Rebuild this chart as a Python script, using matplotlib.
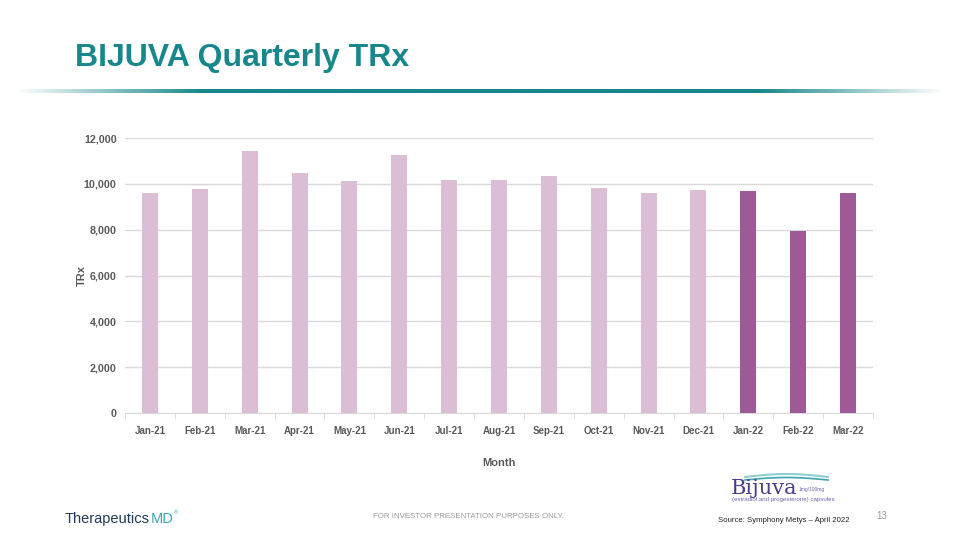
import numpy as np
import matplotlib.pyplot as plt
from matplotlib.ticker import FuncFormatter, FixedLocator

plt.rcParams['font.family'] = ['Liberation Sans', 'DejaVu Sans']

months = ['Jan-21', 'Feb-21', 'Mar-21', 'Apr-21', 'May-21', 'Jun-21', 'Jul-21', 'Aug-21',
          'Sep-21', 'Oct-21', 'Nov-21', 'Dec-21', 'Jan-22', 'Feb-22', 'Mar-22']
trx = [9620, 9780, 11430, 10480, 10130, 11250, 10170, 10170,
       10350, 9830, 9600, 9720, 9690, 7960, 9620]
light = '#dbbdd6'
dark = '#9e5a96'
colors = [light] * 12 + [dark] * 3

fig = plt.figure(figsize=(9.6, 5.4), dpi=100)

# title and gradient rule
fig.text(75/960, 1 - 58/540, 'BIJUVA Quarterly TRx', color='#17878b', fontsize=23,
         fontweight='bold', va='center', ha='left')
lax = fig.add_axes([15/960, 1 - 93/540, 930/960, 4/540])
grad = np.linspace(0, 1, 400)
alpha = np.clip(np.minimum(grad, 1 - grad) * 5, 0, 1)
rgba = np.zeros((1, 400, 4))
rgba[..., 0] = 0x17 / 255
rgba[..., 1] = 0x87 / 255
rgba[..., 2] = 0x8b / 255
rgba[..., 3] = alpha
lax.imshow(rgba, aspect='auto', extent=[0, 1, 0, 1])
lax.axis('off')

# chart
ax = fig.add_axes([125/960, 1 - 413/540, 748/960, 275/540])
x = np.arange(len(months))
ax.bar(x, trx, width=0.32, color=colors, zorder=3)
ax.set_xlim(-0.5, len(months) - 0.5)
ax.set_ylim(0, 12000)
ax.set_yticks(np.arange(0, 12001, 2000))
ax.yaxis.set_major_formatter(FuncFormatter(lambda v, p: f'{int(v):,}'))
ax.grid(axis='y', color='#d9d9d9', linewidth=1, zorder=0)
ax.set_xticks(x)
ax.set_xticklabels(months)
ax.xaxis.set_minor_locator(FixedLocator(np.arange(-0.5, len(months), 1)))
ax.tick_params(axis='x', which='major', length=0, pad=9)
ax.tick_params(axis='x', which='minor', length=4, color='#d9d9d9')
ax.tick_params(axis='y', length=0, pad=6)
for lbl in ax.get_xticklabels():
    lbl.set_fontsize(7)
    lbl.set_fontweight('bold')
    lbl.set_color('#595959')
for lbl in ax.get_yticklabels():
    lbl.set_fontsize(7.7)
    lbl.set_fontweight('bold')
    lbl.set_color('#595959')
for s in ['top', 'right', 'left']:
    ax.spines[s].set_visible(False)
ax.spines['bottom'].set_color('#d9d9d9')
ax.set_ylabel('TRx', fontsize=8, fontweight='bold', color='#595959', labelpad=-2)
ax.set_xlabel('Month', fontsize=8, fontweight='bold', color='#595959', labelpad=16)

# footer
t1 = fig.text(65/960, 1 - 519/540, 'Therapeutics', color='#1f3a5a', fontsize=10.5,
              va='center', ha='left')
fig.canvas.draw()
bb = t1.get_window_extent()
t2 = fig.text(bb.x1 / 960 + 0.5/960, 1 - 519/540, 'MD', color='#3aa6b0', fontsize=10.5,
              va='center', ha='left')
fig.canvas.draw()
bb2 = t2.get_window_extent()
fig.text(bb2.x1 / 960 + 1/960, 1 - 513/540, '®', color='#3aa6b0', fontsize=4,
         va='center', ha='left')
fig.text(373/960, 1 - 516/540, 'FOR INVESTOR PRESENTATION PURPOSES ONLY.', color='#9a9a9a',
         fontsize=5.7, va='center', ha='left')
fig.text(718/960, 1 - 520/540, 'Source: Symphony Metys \u2013 April 2022', color='#222222',
         fontsize=5.6, va='center', ha='left')
fig.text(882/960, 1 - 516/540, '13', color='#9a9a9a', fontsize=7, va='center', ha='center')

# Bijuva logo
fig.text(731/960, 1 - 489/540, 'Bijuva', color='#4a3f8f', fontsize=15, family='DejaVu Serif',
         va='center', ha='left')
fig.text(799/960, 1 - 490/540, '1mg/100mg', color='#6b63b0', fontsize=3.5, va='center', ha='left')
fig.text(732/960, 1 - 500/540, '(estradiol and progesterone) capsules', color='#6b63b0',
         fontsize=4.4, va='center', ha='left')
wx = np.linspace(745, 828, 50)
wax = fig.add_axes([0, 0, 1, 1], facecolor='none')
wax.set_xlim(0, 960)
wax.set_ylim(540, 0)
wax.axis('off')
wax.plot(wx, 477 - 3 * np.sin((wx - 745) / 83 * np.pi), color='#8fcfd2', lw=1.5)
wax.plot(wx, 480 - 2.5 * np.sin((wx - 745) / 83 * np.pi), color='#3aa6b0', lw=1.2)

fig.savefig('out.png', dpi=100)
